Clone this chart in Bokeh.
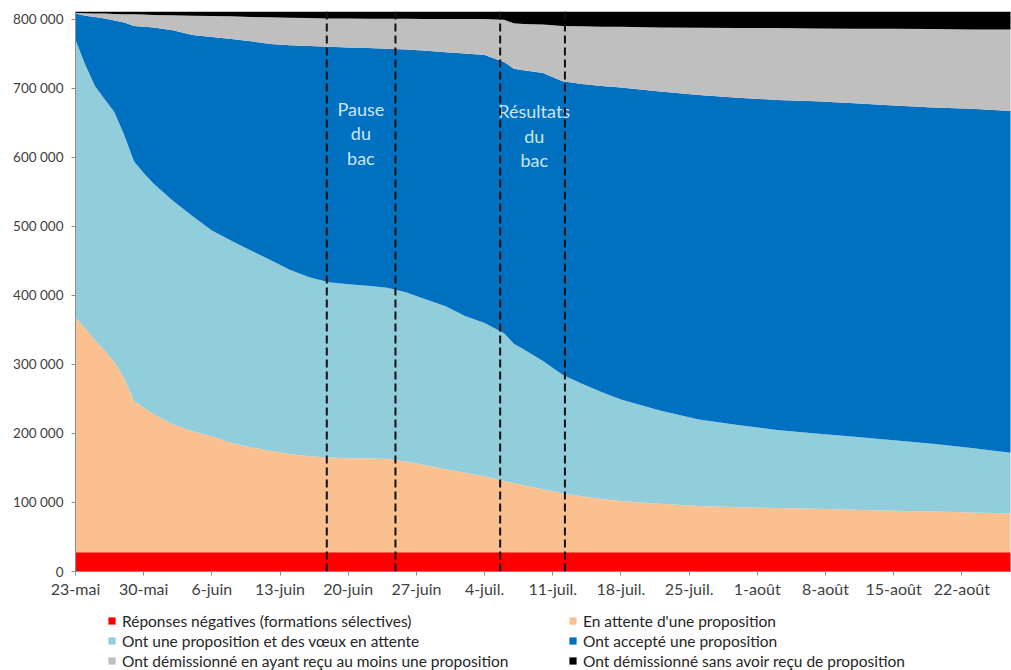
from bokeh.plotting import figure
from bokeh.layouts import column
from bokeh.models import ColumnDataSource, Range1d, FixedTicker, Legend, LegendItem, Span
from bokeh.core.properties import value
from bokeh.embed import file_html
from bokeh.resources import INLINE

FONT = "Lato"

# day offsets from 23 May
days = [0, 1, 2, 3, 4, 5, 6, 7, 8,
        10, 12, 14, 16, 18, 20, 22, 24, 26, 28, 30, 32, 34, 36, 38, 40, 42,
        44, 45, 46,
        48, 50, 52, 54, 56,
        60, 64, 68, 72, 76, 80, 84, 88, 92, 96]

# values in thousands of candidates
negatives = [28, 28, 28, 28, 28, 28, 28, 28, 28,
             28, 28, 28, 28, 28, 28, 28, 28, 28, 28, 28, 28, 28, 28, 28, 28, 28,
             28, 28, 28,
             28, 28, 28, 28, 28,
             28, 28, 28, 28, 28, 28, 28, 28, 28, 28]
en_attente = [340, 324, 307, 292, 275, 252, 219, 209, 200,
              185, 175, 168, 158, 152, 147, 142, 139, 137, 136, 136, 135, 131, 126, 120, 115, 110,
              103, 100, 97,
              91, 85, 81, 77, 74,
              70, 67, 65, 64, 63, 61.5, 60, 59, 57.5, 56]
prop_attente = [402, 382, 368, 364, 362, 352, 347, 340, 334,
                324, 312, 298, 293, 285, 276, 267, 259, 254, 252, 250, 248, 245, 240, 236, 227, 222,
                214, 202, 197,
                186, 172, 163, 155, 147,
                135, 125, 119, 113, 109, 105.5, 102, 98, 93.5, 88]
accepte = [38, 71, 100, 117, 133, 163, 196, 212, 226,
           247, 262, 280, 292, 303, 313, 325, 335, 341, 343, 344, 346, 352, 360, 368, 380, 388,
           393, 398, 404,
           417, 425, 434, 443, 452,
           462, 470, 474, 478, 481, 483, 485, 487, 491, 495]
demission_avec = [1, 3.5, 5, 7, 9.5, 12, 17, 17.5, 18,
                  21.5, 28, 30.5, 33, 35, 38.5, 40, 40.5, 41, 42, 42.5, 43.5, 44.5, 46, 48, 50, 52,
                  61, 66, 67,
                  70, 80, 83.5, 86, 88,
                  93, 97.5, 101, 104, 105.5, 108, 111, 113.5, 115, 118]
demission_sans = [2, 2.5, 3, 3, 3.5, 4, 4, 4.5, 5,
                  5.5, 6, 6.5, 7, 8, 8.5, 9, 9.5, 10, 10, 10.5, 10.5, 10.5, 11, 11, 11, 11,
                  12, 17, 18,
                  19, 21, 21.5, 22, 22,
                  23, 23.5, 24, 24, 24.5, 25, 25, 25.5, 26, 26]

series_labels = ["Réponses négatives (formations sélectives)",
                 "En attente d'une proposition",
                 "Ont une proposition et des vœux en attente",
                 "Ont accepté une proposition",
                 "Ont démissionné en ayant reçu au moins une proposition",
                 "Ont démissionné sans avoir reçu de proposition"]
series_colors = ["#ff0000", "#fac090", "#92cddc", "#0070c0", "#bfbfbf", "#000000"]

x_tick_days = [0, 7, 14, 21, 28, 35, 42, 49, 56, 63, 70, 77, 84, 91]
x_tick_labels = ["23-mai", "30-mai", "6-juin", "13-juin", "20-juin", "27-juin", "4-juil.",
                 "11-juil.", "18-juil.", "25-juil.", "1-août", "8-août", "15-août", "22-août"]
y_ticks = [0, 100000, 200000, 300000, 400000, 500000, 600000, 700000, 800000]
y_tick_labels = ["0", "100 000", "200 000", "300 000", "400 000", "500 000", "600 000", "700 000", "800 000"]

bac_lines = [25.8, 32.85, 43.6, 50.25]
annot_x = [29.3, 29.3, 29.3, 47.1, 47.1, 47.1]
annot_y = [670000, 635000, 599000, 667000, 631000, 596000]
annot_text = ["Pause", "du", "bac", "Résultats", "du", "bac"]

names = ["neg", "att", "pat", "acc", "dav", "dsa"]
data = {"day": days}
for n, s in zip(names, [negatives, en_attente, prop_attente, accepte, demission_avec, demission_sans]):
    data[n] = [v * 1000 for v in s]
src = ColumnDataSource(data)

p = figure(width=1011, height=600, output_backend="svg", toolbar_location=None,
           x_range=Range1d(0, 96.1), y_range=Range1d(0, 811000),
           min_border_left=75, min_border_right=0, min_border_top=11, min_border_bottom=29)
p.outline_line_color = None
p.grid.visible = False
p.background_fill_color = "white"

rs = p.varea_stack(stackers=names, x="day", color=series_colors, source=src)

for d in bac_lines:
    p.add_layout(Span(location=d, dimension="height", line_color="#111111",
                      line_width=2, line_dash="8 4"))

p.text(x=annot_x, y=annot_y, text=annot_text, text_align="center", text_baseline="middle",
       text_color="#cde5f4", text_font=value(FONT), text_font_size="18px")

p.xaxis.ticker = FixedTicker(ticks=x_tick_days)
p.xaxis.major_label_overrides = {d: l for d, l in zip(x_tick_days, x_tick_labels)}
p.yaxis.ticker = FixedTicker(ticks=y_ticks)
p.yaxis.major_label_overrides = {t: l for t, l in zip(y_ticks, y_tick_labels)}
for ax in (p.xaxis, p.yaxis):
    ax.axis_line_color = "#8c8c8c"
    ax.major_tick_line_color = "#8c8c8c"
    ax.minor_tick_line_color = None
    ax.major_tick_in = 0
    ax.major_tick_out = 4
    ax.major_label_text_font = FONT
    ax.major_label_text_color = "#404040"
p.xaxis.major_label_text_font_size = "16px"
p.xaxis.major_label_standoff = 3
p.yaxis.major_label_text_font_size = "13.5px"
p.yaxis.major_label_standoff = 8

# legend figure (two columns of three entries); its swatches come from
# zero-height areas built on the same data, so nothing is drawn there
p2 = figure(width=1011, height=70, output_backend="svg", toolbar_location=None,
            x_range=Range1d(0, 96.1), y_range=Range1d(1000000, 2000000),
            x_axis_type=None, y_axis_type=None,
            min_border_left=75, min_border_right=0, min_border_top=0, min_border_bottom=0)
p2.outline_line_color = None
p2.grid.visible = False

swatches = []
for n, c in zip(names, series_colors):
    swatches.append(p2.varea(x="day", y1=n, y2=n, fill_color=c, source=src))

col_order = [[0, 2, 4], [1, 3, 5]]
col_x = [32, 493]
for xs, idx in zip(col_x, col_order):
    leg = Legend(items=[LegendItem(label=series_labels[i], renderers=[swatches[i]]) for i in idx],
                 orientation="vertical", location=(xs, 0),
                 margin=0, padding=0, spacing=1, glyph_width=9, glyph_height=9,
                 label_standoff=6, label_height=19, label_text_font=FONT,
                 label_text_font_size="15.5px", label_text_color="#262626",
                 label_text_baseline="middle",
                 border_line_alpha=0, background_fill_alpha=0)
    p2.add_layout(leg, "center")

layout = column(p, p2, spacing=0)
open("out.html", "w").write(file_html(layout, INLINE))
